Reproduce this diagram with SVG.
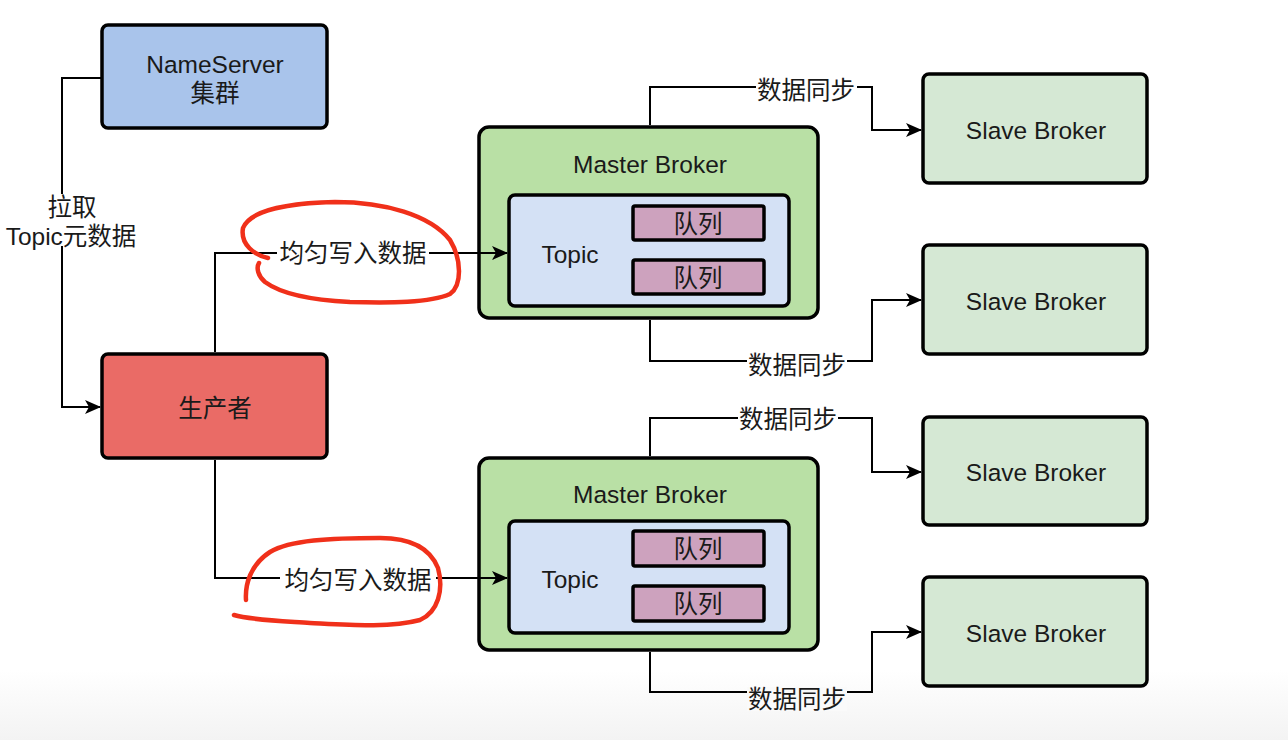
<svg xmlns="http://www.w3.org/2000/svg" width="1288" height="740" viewBox="0 0 1288 740">
<style>
.box{stroke:#000;stroke-width:3.5}
.t{font-family:"Liberation Sans","Noto Sans CJK SC",Arial,sans-serif;font-size:24.5px;fill:#1a1a1a;text-anchor:middle;dominant-baseline:central}
.c{fill:none;stroke:#000;stroke-width:2}
.lbl{fill:#fff}
.red{fill:none;stroke:#f0301a;stroke-width:4.5;stroke-linecap:round;stroke-linejoin:round}
</style>
<defs>
<marker id="arr" viewBox="0 0 16 14" refX="15" refY="7" markerWidth="16" markerHeight="14" markerUnits="userSpaceOnUse" orient="auto">
<path d="M0,0 L16,7 L0,14 L4,7 Z" fill="#000"/>
</marker>
<linearGradient id="bg" x1="0" y1="0" x2="0" y2="1">
<stop offset="0" stop-color="#ffffff"/>
<stop offset="1" stop-color="#f3f3f3"/>
</linearGradient>
</defs>
<rect width="1288" height="740" fill="#fff"/>
<rect x="0" y="670" width="1288" height="70" fill="url(#bg)"/>

<g id="nameserver">
<rect class="box" x="102" y="25" width="225" height="103" rx="6" fill="#a9c4eb"/>
<text class="t" x="215" y="64">NameServer</text>
<text class="t" x="215" y="93">集群</text>
</g>

<g id="producer">
<rect class="box" x="102" y="354" width="225" height="104" rx="6" fill="#ea6b66"/>
<text class="t" x="215" y="408">生产者</text>
</g>

<g id="master1">
<rect class="box" x="479" y="127" width="339" height="191" rx="10" fill="#b9e0a5"/>
<text class="t" x="650" y="164">Master Broker</text>
<rect class="box" x="509" y="195" width="280" height="111" rx="6" fill="#d4e1f5"/>
<text class="t" x="570" y="254">Topic</text>
<rect class="box" x="633" y="206" width="131" height="34" rx="2" fill="#cda2be"/>
<text class="t" x="698" y="224">队列</text>
<rect class="box" x="633" y="260" width="131" height="34" rx="2" fill="#cda2be"/>
<text class="t" x="698" y="278">队列</text>
</g>

<g id="master2">
<rect class="box" x="479" y="458" width="339" height="192" rx="10" fill="#b9e0a5"/>
<text class="t" x="650" y="494">Master Broker</text>
<rect class="box" x="509" y="521" width="280" height="112" rx="6" fill="#d4e1f5"/>
<text class="t" x="570" y="579">Topic</text>
<rect class="box" x="633" y="531" width="131" height="35" rx="2" fill="#cda2be"/>
<text class="t" x="698" y="549">队列</text>
<rect class="box" x="633" y="586" width="131" height="35" rx="2" fill="#cda2be"/>
<text class="t" x="698" y="604">队列</text>
</g>

<g id="slave1">
<rect class="box" x="923" y="74" width="224" height="109" rx="6" fill="#d5e8d4"/>
<text class="t" x="1036" y="130">Slave Broker</text>
</g>
<g id="slave2">
<rect class="box" x="923" y="245" width="224" height="109" rx="6" fill="#d5e8d4"/>
<text class="t" x="1036" y="301">Slave Broker</text>
</g>
<g id="slave3">
<rect class="box" x="923" y="417" width="224" height="108" rx="6" fill="#d5e8d4"/>
<text class="t" x="1036" y="472">Slave Broker</text>
</g>
<g id="slave4">
<rect class="box" x="923" y="577" width="224" height="109" rx="6" fill="#d5e8d4"/>
<text class="t" x="1036" y="633">Slave Broker</text>
</g>

<g id="connectors">
<path class="c" d="M102,78 H62 V407 H100" marker-end="url(#arr)"/>
<path class="c" d="M215,352 V253 H507" marker-end="url(#arr)"/>
<path class="c" d="M215,460 V578 H507" marker-end="url(#arr)"/>
<path class="c" d="M650,125 V87 H872 V130 H921" marker-end="url(#arr)"/>
<path class="c" d="M650,320 V361 H872 V300 H921" marker-end="url(#arr)"/>
<path class="c" d="M650,456 V418 H872 V472 H921" marker-end="url(#arr)"/>
<path class="c" d="M650,652 V692 H872 V632 H921" marker-end="url(#arr)"/>
<rect class="lbl" x="40" y="194" width="104" height="52"/>
<text class="t" x="72" y="207">拉取</text>
<text class="t" x="71" y="236">Topic元数据</text>
<rect class="lbl" x="277" y="241" width="152" height="24"/>
<text class="t" x="353" y="253">均匀写入数据</text>
<rect class="lbl" x="280" y="566" width="156" height="24"/>
<text class="t" x="358" y="580">均匀写入数据</text>
<rect class="lbl" x="756" y="77" width="101" height="22"/>
<text class="t" x="806" y="90">数据同步</text>
<rect class="lbl" x="747" y="352" width="100" height="22"/>
<text class="t" x="797" y="365">数据同步</text>
<rect class="lbl" x="738" y="408" width="100" height="22"/>
<text class="t" x="788" y="419">数据同步</text>
<rect x="747" y="687" width="100" height="24" fill="#fafafa"/>
<text class="t" x="797" y="699">数据同步</text>
</g>

<g id="annotations">
<path class="red" d="M268,258 C255,255 240,245 243,228 C250,210 290,203 335,202 C385,202 430,215 450,240 C462,260 462,285 450,294 C430,303 390,303 350,302 C310,300 280,293 265,282 C258,276 256,268 259,263"/>
<path class="red" d="M246,600 C245,585 250,565 270,552 C290,540 330,538 380,538 C410,538 430,548 438,568 C444,590 438,612 420,620 C390,628 350,625 310,623 C280,621 250,620 234,615"/>
</g>
</svg>
